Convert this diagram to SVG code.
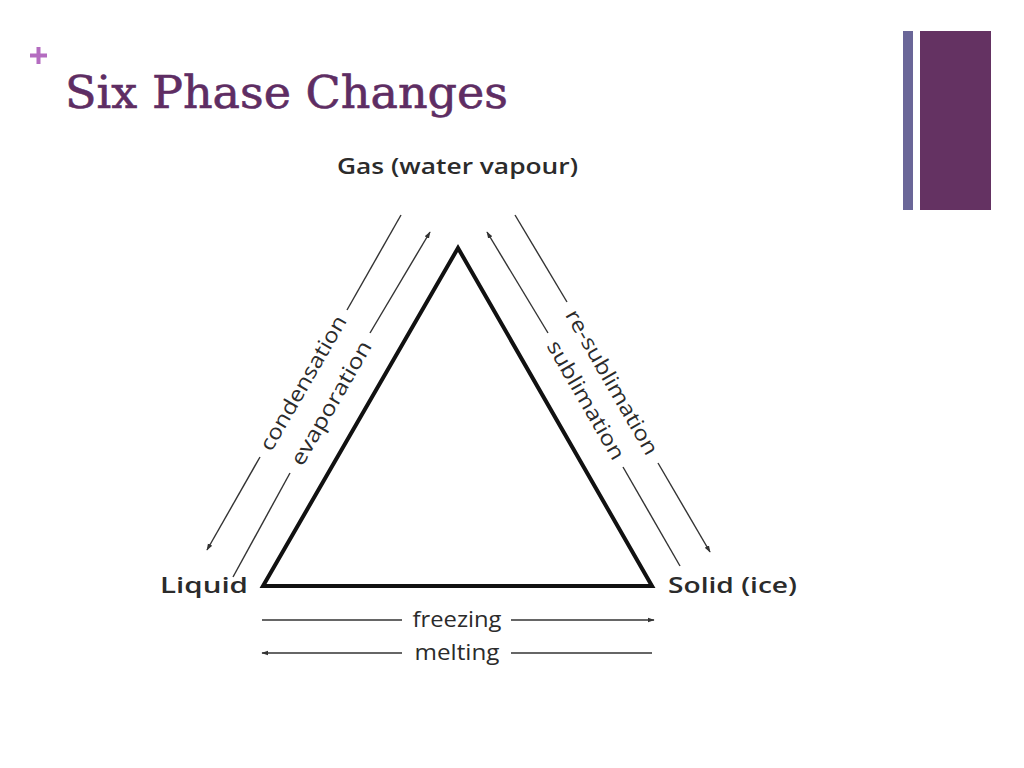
<svg xmlns="http://www.w3.org/2000/svg" width="1024" height="768" viewBox="0 0 1024 768">
<defs>
<marker id="ah" viewBox="0 0 10 10" refX="9" refY="5" markerWidth="7" markerHeight="7" markerUnits="userSpaceOnUse" orient="auto">
<path d="M0,1.5 L10,5 L0,8.5 Z" fill="#333"/>
</marker>
<style>
.lbl{font-family:"Open Sans","Liberation Sans",sans-serif;font-size:21px;fill:#2b2b2b;}
.node{font-family:"Open Sans","Liberation Sans",sans-serif;font-size:22px;font-weight:600;fill:#2b2b2b;}
.arr{stroke:#333;stroke-width:1.4;fill:none;}
.arrh{stroke:#333;stroke-width:1.4;fill:none;marker-end:url(#ah);}
</style>
</defs>
<rect width="1024" height="768" fill="#fff"/>
<g id="header">
<path d="M30,55.5 H47 M38.5,47 V64" stroke="#b46cc0" stroke-width="4"/>
<text x="65" y="108" font-family="'DejaVu Serif','Liberation Serif',serif" font-size="44" fill="#5e2d63" stroke="#5e2d63" stroke-width="0.6" textLength="443" lengthAdjust="spacingAndGlyphs">Six Phase Changes</text>
<rect x="903" y="31" width="10" height="179" fill="#6a6698"/>
<rect x="920" y="31" width="71" height="179" fill="#643262"/>
</g>
<g id="triangle">
<polygon points="458,248 263,586 652,586" fill="none" stroke="#111" stroke-width="4" stroke-linejoin="miter"/>
</g>
<g id="gas"><text class="node" x="337" y="174" textLength="241" lengthAdjust="spacingAndGlyphs">Gas (water vapour)</text></g>
<g id="liquid"><text class="node" x="160" y="593" textLength="88" lengthAdjust="spacingAndGlyphs">Liquid</text></g>
<g id="solid"><text class="node" x="668" y="593" textLength="129" lengthAdjust="spacingAndGlyphs">Solid (ice)</text></g>
<g id="connectors">
<line class="arr" x1="401" y1="215" x2="347" y2="310"/>
<line class="arrh" x1="260" y1="457" x2="207" y2="550"/>
<line class="arr" x1="233" y1="577" x2="290" y2="473"/>
<line class="arrh" x1="370" y1="333" x2="430" y2="232"/>
<line class="arr" x1="515" y1="215" x2="567" y2="302"/>
<line class="arrh" x1="658" y1="463" x2="710" y2="552"/>
<line class="arr" x1="680" y1="566" x2="623" y2="467"/>
<line class="arrh" x1="548" y1="333" x2="487" y2="232"/>
<line class="arr" x1="262" y1="620" x2="402" y2="620"/>
<line class="arrh" x1="511" y1="620" x2="654" y2="620"/>
<line class="arr" x1="652" y1="653" x2="511" y2="653"/>
<line class="arrh" x1="402" y1="653" x2="262" y2="653"/>
</g>
<g id="labels">
<text class="lbl" text-anchor="middle" dy="0.35em" transform="translate(303,383) rotate(-60)" textLength="152" lengthAdjust="spacingAndGlyphs">condensation</text>
<text class="lbl" text-anchor="middle" dy="0.35em" transform="translate(331,403) rotate(-60)" textLength="140" lengthAdjust="spacingAndGlyphs">evaporation</text>
<text class="lbl" text-anchor="middle" dy="0.35em" transform="translate(612,382) rotate(60)" textLength="164" lengthAdjust="spacingAndGlyphs">re-sublimation</text>
<text class="lbl" text-anchor="middle" dy="0.35em" transform="translate(586,400) rotate(60)" textLength="134" lengthAdjust="spacingAndGlyphs">sublimation</text>
<text class="lbl" x="457" y="627" text-anchor="middle" textLength="89" lengthAdjust="spacingAndGlyphs">freezing</text>
<text class="lbl" x="457" y="660" text-anchor="middle" textLength="85" lengthAdjust="spacingAndGlyphs">melting</text>
</g>
</svg>
